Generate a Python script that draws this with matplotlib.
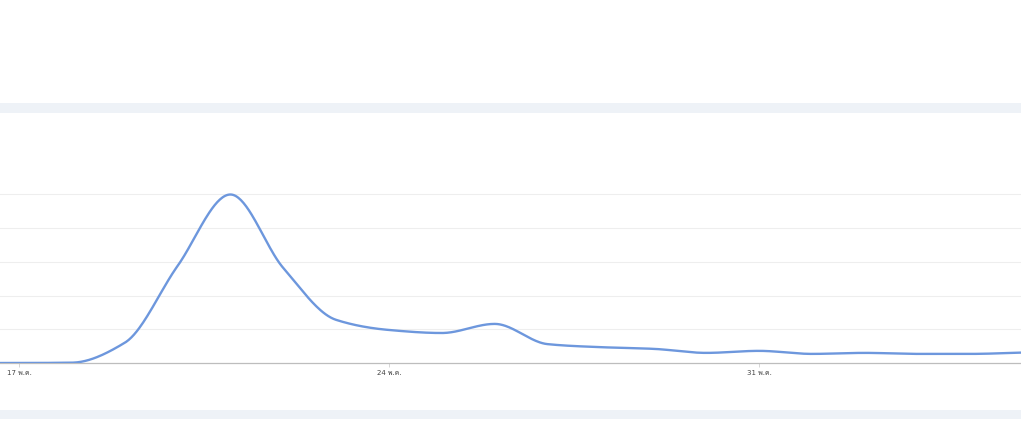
"""Daily trend line, smoothed, with Thai date ticks."""
import numpy as np
import matplotlib
matplotlib.use("Agg")
import matplotlib.pyplot as plt
from matplotlib import font_manager
from matplotlib.ft2font import FT2Font
from matplotlib.patches import Rectangle

days   = [16, 17, 18, 19, 20, 21, 22, 23, 24, 25, 26, 27, 28, 29, 30, 31, 32, 33, 34, 35, 36]
values = [0, 0, 0.1, 6, 28.8, 50, 28.2, 12.8, 9.8, 8.9, 11.6, 5.6, 4.7, 4.2, 3.0, 3.6, 2.7, 3.0, 2.7, 2.7, 3.1]
tick_days   = [17, 24, 31]
tick_labels = ["17 พ.ค.", "24 พ.ค.", "31 พ.ค."]

LINE = "#6d97dd"
BAND = "#eef2f7"


def thai_families():
    # look for any installed font with Thai glyphs
    found = []
    for f in font_manager.fontManager.ttflist:
        try:
            ft = FT2Font(f.fname)
            if ft.get_char_index(ord("พ")) and f.name not in found:
                found.append(f.name)
        except Exception:
            pass
    return found


def smooth(x, y, n=40):
    # monotone cubic hermite (Fritsch-Carlson), just for drawing
    x = np.asarray(x, float); y = np.asarray(y, float)
    h = np.diff(x); d = np.diff(y) / h
    m = np.zeros_like(y)
    m[0], m[-1] = d[0], d[-1]
    for i in range(1, len(y) - 1):
        if d[i - 1] * d[i] > 0:
            m[i] = 2 / (1 / d[i - 1] + 1 / d[i])
    xs, ys = [], []
    for i in range(len(x) - 1):
        t = np.linspace(0, 1, n, endpoint=False)
        h00 = 2*t**3 - 3*t**2 + 1; h10 = t**3 - 2*t**2 + t
        h01 = -2*t**3 + 3*t**2;    h11 = t**3 - t**2
        xs.append(x[i] + t * h[i])
        ys.append(h00*y[i] + h10*h[i]*m[i] + h01*y[i+1] + h11*h[i]*m[i+1])
    xs.append([x[-1]]); ys.append([y[-1]])
    return np.concatenate(xs), np.concatenate(ys)


W, H = 1021, 442
fig = plt.figure(figsize=(W / 100, H / 100), dpi=100)
fig.patch.set_facecolor("white")
for y0, y1 in [(103, 113), (410, 419)]:
    fig.add_artist(Rectangle((0, 1 - y1 / H), 1, (y1 - y0) / H,
                             transform=fig.transFigure, color=BAND, lw=0))

base, top = 363, 113
ax = fig.add_axes([0, 1 - base / H, 1, (base - top) / H])
px_day = (759 - 19) / 14
ax.set_xlim(17 - 19 / px_day, 17 + (W - 19) / px_day)
ax.set_ylim(0, (base - top) / 33.7 * 10)

for g in [10, 20, 30, 40, 50]:
    ax.axhline(g, color="#eeeeee", lw=0.8, zorder=1)

sx, sy = smooth(days, values)
ax.plot(sx, sy, color=LINE, lw=1.7, zorder=3, solid_capstyle="round")

for s in ["top", "left", "right"]:
    ax.spines[s].set_visible(False)
ax.spines["bottom"].set_color("#bdbdbd")
ax.spines["bottom"].set_linewidth(0.9)
ax.set_yticks([])
ax.set_xticks(tick_days)
ax.set_xticklabels(tick_labels, fontsize=5,
                   family=["DejaVu Sans"] + thai_families())
ax.tick_params(axis="x", length=3, width=0.6, color="#d0d0d0",
               labelcolor="#444444", pad=2)

fig.savefig("out.png", dpi=100, facecolor="white")
